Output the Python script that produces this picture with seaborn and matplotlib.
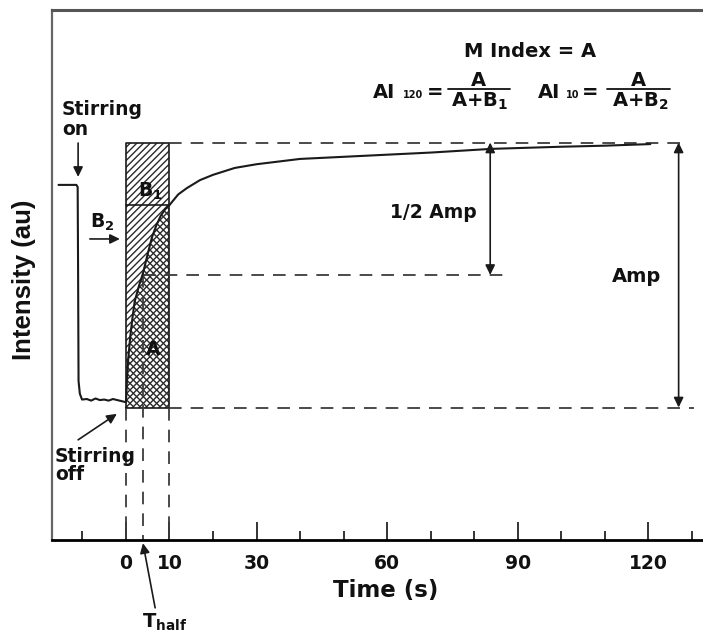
import numpy as np
import pandas as pd
import matplotlib
matplotlib.use("Agg")
import matplotlib.pyplot as plt
from matplotlib.lines import Line2D
import seaborn as sns

# ---- trace: intensity vs time (s) ----
time_s = [-15.5, -11.4, -11.1, -11.0, -10.9, -10.6, -10.1, -9.0, -8.0, -7.0, -6.0,
          -5.0, -4.0, -3.0, -2.0, -1.0, 0.0, 0.25, 0.5, 1.0, 1.5, 2.0, 3.0, 3.9,
          5.0, 6.0, 7.0, 8.0, 9.0, 10.0, 12.0, 14.0, 17.0, 20.0, 25.0, 30.0,
          35.0, 40.0, 50.0, 60.0, 70.0, 84.0, 100.0, 110.0, 120.5]
intensity = [67.0, 67.0, 66.6, 50.0, 30.0, 27.6, 26.5, 26.6, 26.3, 26.7, 26.4,
             26.5, 26.3, 26.6, 26.4, 26.2, 26.0, 30.5, 34.0, 38.5, 42.0, 45.0, 48.0, 50.3,
             54.0, 57.2, 59.4, 61.2, 62.4, 63.2, 65.2, 66.4, 67.9, 68.9, 70.2, 70.9,
             71.4, 71.9, 72.3, 72.7, 73.1, 73.8, 74.2, 74.4, 74.7]

# reference levels
baseline = 25.0
plateau = 75.0
half_amp = 50.0
t_half = 3.9
t_window = 10.0
level_t10 = 63.2

tick_major = [0, 10, 30, 60, 90, 120]
tick_minor = [-10, 20, 40, 50, 70, 80, 100, 110, 130]
tick_labels = ["0", "10", "30", "60", "90", "120"]

df = pd.DataFrame({"Time (s)": time_s, "Intensity (au)": intensity})

sns.set_style("white")
plt.rcParams["font.family"] = ["DejaVu Sans"]
plt.rcParams["font.weight"] = "bold"
plt.rcParams["mathtext.fontset"] = "dejavusans"
plt.rcParams["mathtext.default"] = "bf"
plt.rcParams["hatch.linewidth"] = 1.0

W, H = 703, 635
fig = plt.figure(figsize=(W / 100, H / 100), dpi=100)
ax = fig.add_axes([52 / W, 95 / H, (W - 52) / W, 530 / H])
ax.set_xlim(-17, 132.6)
ax.set_ylim(0, 100)

ink = "#1a1a1a"
dash_col = "#3c3c3c"
dash = (0, (7, 5))

# hatched integration window (0-10 s)
win = df[(df["Time (s)"] >= 0) & (df["Time (s)"] <= t_window)]
ax.fill_between([0, t_window], baseline, plateau, facecolor="white",
                edgecolor="#2a2a2a", hatch="/////", linewidth=0, zorder=1)
ax.fill_between(win["Time (s)"], baseline, win["Intensity (au)"], facecolor="none",
                edgecolor="#2a2a2a", hatch="\\\\\\\\\\", linewidth=0, zorder=1.1)
ax.plot([0, t_window, t_window, 0, 0], [baseline, baseline, plateau, plateau, baseline],
        color=ink, lw=1.2, zorder=2)
ax.plot([0, t_window], [level_t10, level_t10], color=ink, lw=1.2, zorder=2)

# trace
sns.lineplot(data=df, x="Time (s)", y="Intensity (au)", ax=ax, color=ink,
             linewidth=1.5, sort=False, estimator=None, zorder=3)

# reference dashed lines
ax.plot([t_window, 128.5], [plateau, plateau], color=dash_col, lw=1.3, ls=dash)
ax.plot([t_half, 87.6], [half_amp, half_amp], color=dash_col, lw=1.3, ls=dash)
ax.plot([t_window, 130.5], [baseline, baseline], color=dash_col, lw=1.3, ls=dash)
ax.plot([0, 0], [baseline, 0], color=dash_col, lw=1.3, ls=dash)
ax.plot([t_half, t_half], [half_amp, 0], color=dash_col, lw=1.3, ls=dash)
ax.plot([t_window, t_window], [baseline, 0], color=dash_col, lw=1.3, ls=dash)

def arrow(head, tail, style="-|>"):
    ax.annotate("", xy=head, xytext=tail, annotation_clip=False,
                arrowprops=dict(arrowstyle=f"{style},head_length=0.45,head_width=0.22",
                                mutation_scale=13, color=ink, lw=1.2,
                                shrinkA=0, shrinkB=0))

arrow((83.7, plateau), (83.7, half_amp), "<|-|>")
arrow((127.0, plateau), (127.0, baseline), "<|-|>")
arrow((-11.0, 68.5), (-11.0, 74.9))
arrow((-2.1, 23.8), (-11.0, 18.9))
arrow((-1.4, 56.8), (-8.3, 56.8))
arrow((3.9, -0.6), (6.7, -12.8))

# axes styling
ax.spines["right"].set_visible(False)
ax.spines["top"].set_color("#555555")
ax.spines["top"].set_linewidth(2.2)
ax.spines["left"].set_color("#666666")
ax.spines["left"].set_linewidth(1.6)
ax.spines["bottom"].set_color("black")
ax.spines["bottom"].set_linewidth(2.0)

ax.set_yticks([])
ax.set_xticks(tick_major)
ax.set_xticklabels(tick_labels)
ax.set_xticks(tick_minor, minor=True)
ax.tick_params(axis="x", which="major", direction="in", length=13, width=1.4,
               color="#333333", labelcolor="#111111", pad=10, labelsize=13.5)
ax.tick_params(axis="x", which="minor", direction="in", length=6.5, width=1.4,
               color="#333333")
ax.tick_params(axis="x", which="both", bottom=True, top=False)

ax.set_xlabel("Time (s)", fontsize=16.5, fontweight="bold", color="#111111")
ax.xaxis.label.set_va("baseline")
ax.xaxis.set_label_coords((386 - 52) / 651, -(597 - 540) / 530)
ax.set_ylabel("Intensity (au)", fontsize=18.5, fontweight="bold", color="#111111",
              family=["Liberation Sans", "DejaVu Sans"])
ax.yaxis.label.set_va("center")
ax.yaxis.set_label_coords((24.5 - 52) / 651, (540 - 280) / 530)

# annotations (pixel layout)
def ptext(x, y, s, size=14, ha="left", va="baseline", **kw):
    fig.text(x / W, 1 - y / H, s, fontsize=size, ha=ha, va=va,
             fontweight="bold", color="#111111", **kw)

def pline(x0, x1, y):
    fig.add_artist(Line2D([x0 / W, x1 / W], [1 - y / H, 1 - y / H],
                          color="#111111", lw=1.3))

ptext(62, 115, "Stirring", 13.5)
ptext(62, 135, "on", 13.5)
ptext(55, 462, "Stirring", 13.5)
ptext(55, 480, "off", 13.5)
ptext(90, 228, "B$_2$", 13.5)
ptext(138, 197, "B$_1$", 13.5)
ptext(153, 355, "A", 13.5, ha="center")
ptext(142, 628, "T$_{half}$", 14)
ptext(390, 218, "1/2 Amp", 13.5)
ptext(612, 282, "Amp", 14)
ptext(530, 57, "M Index = A", 14, ha="center")

ptext(373, 98, "AI", 14)
ptext(403, 98, "120", 7)
ptext(427, 98, "=", 14)
pline(448, 510, 89)
ptext(478, 86, "A", 14, ha="center")
ptext(480, 107, "A+B$_1$", 14, ha="center")

ptext(538, 98, "AI", 14)
ptext(566, 98, "10", 7)
ptext(582, 98, "=", 14)
pline(607, 670, 89)
ptext(638, 86, "A", 14, ha="center")
ptext(640, 107, "A+B$_2$", 14, ha="center")

fig.savefig("out.png", dpi=100)
